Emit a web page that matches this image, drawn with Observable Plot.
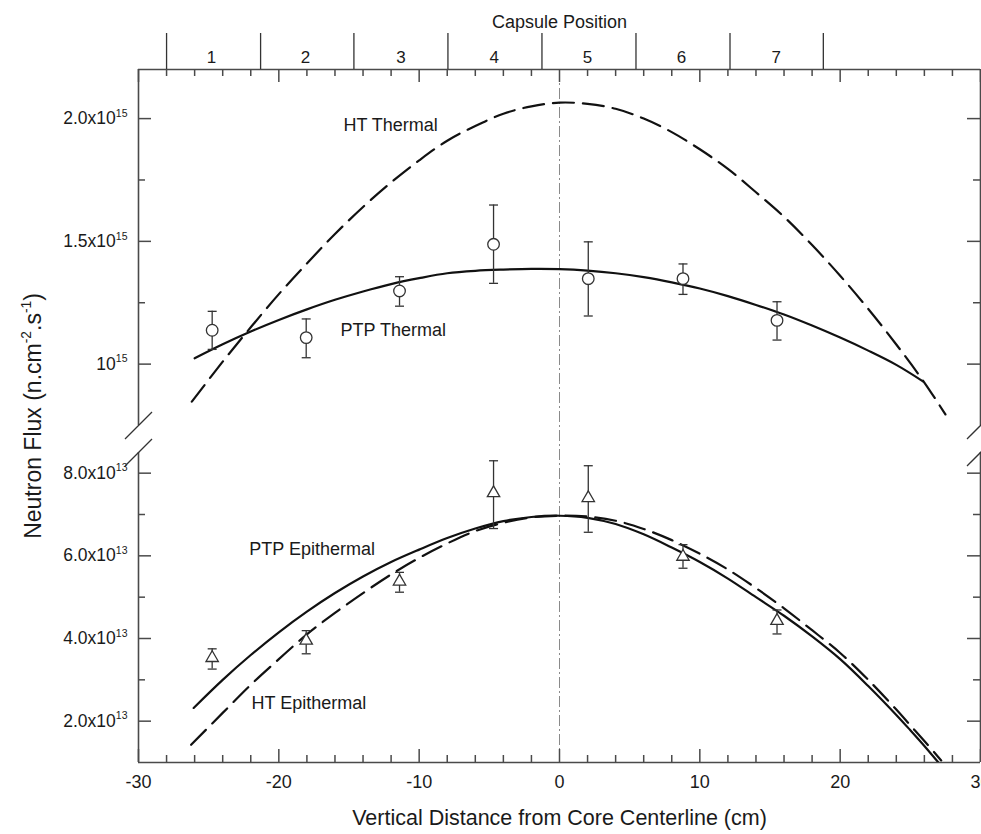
<!DOCTYPE html>
<html>
<head>
<meta charset="utf-8">
<script src="https://cdn.jsdelivr.net/npm/d3@7"></script>
<script src="https://cdn.jsdelivr.net/npm/@observablehq/plot@0.6"></script>
<style>
html, body { margin: 0; padding: 0; background: #fff; overflow: hidden; }
svg { display: block; }
</style>
</head>
<body>
<div id="chart"></div>
<script>
// ---------------- data ----------------
const capsuleLabels = ["1", "2", "3", "4", "5", "6", "7"];
const capsuleCenters = [-24.8, -18.1, -11.3, -4.65, 2.0, 8.7, 15.45];
const capsuleEdges = [-28, -21.3, -14.65, -7.95, -1.25, 5.45, 12.15, 18.8];

// measured points (capsule positions)
const measX = [-24.75, -18.05, -11.4, -4.7, 2.05, 8.8, 15.5];
const thermal   = [1.138e15, 1.108e15, 1.298e15, 1.488e15, 1.348e15, 1.348e15, 1.178e15];
const thermalHi = [1.215e15, 1.184e15, 1.356e15, 1.648e15, 1.498e15, 1.408e15, 1.254e15];
const thermalLo = [1.060e15, 1.026e15, 1.236e15, 1.329e15, 1.196e15, 1.284e15, 1.098e15];
const epi   = [3.53e13, 3.95e13, 5.38e13, 7.52e13, 7.40e13, 5.98e13, 4.43e13];
const epiHi = [3.75e13, 4.19e13, 5.60e13, 8.30e13, 8.18e13, 6.27e13, 4.69e13];
const epiLo = [3.26e13, 3.63e13, 5.12e13, 6.66e13, 6.57e13, 5.70e13, 4.11e13];

// calculated profiles
const htThermalX = [-26.2, -24, -22, -20, -18, -16, -14, -12, -10, -8, -6, -4, -2, 0, 2, 4, 6, 8, 10, 12, 14, 16, 18, 20, 22, 24, 26, 27.5];
const htThermalY = [0.847e15, 1.01e15, 1.15e15, 1.285e15, 1.41e15, 1.53e15, 1.64e15, 1.74e15, 1.83e15, 1.91e15, 1.97e15, 2.02e15, 2.05e15, 2.065e15, 2.06e15, 2.04e15, 2.0e15, 1.945e15, 1.875e15, 1.795e15, 1.70e15, 1.60e15, 1.485e15, 1.36e15, 1.225e15, 1.08e15, 0.925e15, 0.795e15];

const ptpThermalX = [-26, -24, -22, -20, -18, -16, -14, -12, -10, -8, -6, -4, -2, 0, 2, 4, 6, 8, 10, 12, 14, 16, 18, 20, 22, 24, 25.9];
const ptpThermalY = [1.024e15, 1.081e15, 1.133e15, 1.18e15, 1.223e15, 1.262e15, 1.296e15, 1.326e15, 1.35e15, 1.37e15, 1.38e15, 1.385e15, 1.388e15, 1.387e15, 1.381e15, 1.37e15, 1.354e15, 1.333e15, 1.308e15, 1.277e15, 1.241e15, 1.202e15, 1.157e15, 1.108e15, 1.055e15, 0.997e15, 0.93e15];

const ptpEpiX = [-26.07, -24, -22, -20, -18, -16, -14, -12, -10, -8, -6, -4, -2, 0, 2, 4, 6, 8, 10, 12, 14, 16, 18, 20, 22, 24, 25, 26, 27];
const ptpEpiY = [2.32e13, 3.0e13, 3.6e13, 4.15e13, 4.65e13, 5.1e13, 5.5e13, 5.85e13, 6.15e13, 6.43e13, 6.66e13, 6.84e13, 6.94e13, 6.97e13, 6.92e13, 6.77e13, 6.52e13, 6.2e13, 5.85e13, 5.45e13, 5.0e13, 4.55e13, 4.05e13, 3.5e13, 2.85e13, 2.15e13, 1.78e13, 1.4e13, 1.0e13];

const htEpiX = [-26.25, -24, -22, -20, -18, -16, -14, -12, -10, -8, -6, -4, -2, 0, 2, 4, 6, 8, 10, 12, 14, 16, 18, 20, 22, 24, 25, 26, 27.2];
const htEpiY = [1.43e13, 2.2e13, 2.88e13, 3.5e13, 4.1e13, 4.62e13, 5.1e13, 5.55e13, 5.95e13, 6.3e13, 6.6e13, 6.8e13, 6.93e13, 6.97e13, 6.95e13, 6.85e13, 6.65e13, 6.38e13, 6.05e13, 5.67e13, 5.22e13, 4.73e13, 4.2e13, 3.65e13, 3.0e13, 2.28e13, 1.9e13, 1.52e13, 1.05e13];

// curve labels
const annText = ["HT Thermal", "PTP Thermal", "PTP Epithermal", "HT Epithermal"];
const annX = [-15.4, -15.6, -22.1, -21.95];
const annY = [1.974e15, 1.139e15, 6.17e13, 2.44e13];

// axes
const xDomain = [-30, 30];
const xMajor = [-30, -20, -10, 0, 10, 20, 30];
const xMajorText = ["-30", "-20", "-10", "0", "10", "20", "30"];
const xMinor = [-28, -26, -24, -22, -18, -16, -14, -12, -8, -6, -4, -2, 2, 4, 6, 8, 12, 14, 16, 18, 22, 24, 26, 28];
// broken y axis: lower segment [1e13, 8.5e13], upper segment [0.75e15, 2.2e15]
const yLower = [1e13, 8.5e13];
const yUpper = [0.75e15, 2.2e15];
const yMajor = [2e13, 4e13, 6e13, 8e13, 1e15, 1.5e15, 2e15];
const yMajorText = ["2.0x10^{13}", "4.0x10^{13}", "6.0x10^{13}", "8.0x10^{13}", "10^{15}", "1.5x10^{15}", "2.0x10^{15}"];
const yMinor = [3e13, 5e13, 7e13, 1.25e15, 1.75e15];

const xTitle = "Vertical Distance from Core Centerline (cm)";
const yTitle = "Neutron Flux (n.cm^{-2}.s^{-1})";
const topTitle = "Capsule Position";

// ---------------- layout ----------------
const W = 981, H = 834, mL = 138, mR = 1, mT = 69, mB = 72;
const fw = W - mL - mR, fh = H - mT - mB;
const gapTop = 425, gapBottom = 452; // pixel ends of the two y segments
const majorLen = 13, minorLen = 7;
const ink = "#1a1a1a", axisInk = "#4a4a4a", barInk = "#333";
const FONT = "'Liberation Sans', Arial, Helvetica, sans-serif";

const idx = d3.range(measX.length);
const capSym = {draw(ctx, size) { const r = Math.sqrt(size / Math.PI); ctx.moveTo(-r, 0); ctx.lineTo(r, 0); }};
const slashSym = {draw(ctx, size) { const r = Math.sqrt(size / Math.PI); ctx.moveTo(-r, r); ctx.lineTo(r, -r); }};
const breaks = [
  {x: xDomain[0], y: yUpper[0]}, {x: xDomain[0], y: yLower[1]},
  {x: xDomain[1], y: yUpper[0]}, {x: xDomain[1], y: yLower[1]}
];

const chart = Plot.plot({
  width: W, height: H,
  marginLeft: mL, marginRight: mR, marginTop: mT, marginBottom: mB,
  style: {fontFamily: FONT, fontSize: "17px", color: ink, background: "#fff", overflow: "hidden"},
  x: {domain: xDomain, ticks: xMajor, tickFormat: d => xMajorText[xMajor.indexOf(d)], tickSize: 0, tickPadding: 13, label: null},
  y: {type: "linear", domain: [yLower[0], yLower[1], yUpper[0], yUpper[1]], range: [H - mB, gapBottom, gapTop, mT],
      ticks: yMajor, tickFormat: d => yMajorText[yMajor.indexOf(d)], tickSize: 0, tickPadding: 11, label: null},
  marks: [
    // core centerline
    Plot.ruleX([0], {stroke: "#8a8a8a", strokeWidth: 1, strokeDasharray: "11,3,2,3"}),
    // frame lines
    Plot.ruleY([yLower[0], yUpper[1]], {stroke: axisInk, strokeWidth: 1.6}),
    Plot.ruleX(xDomain, {y1: yUpper[0], y2: yUpper[1], stroke: axisInk, strokeWidth: 1.6}),
    Plot.ruleX(xDomain, {y1: yLower[0], y2: yLower[1], stroke: axisInk, strokeWidth: 1.6}),
    // inward ticks: bottom, top, left, right
    Plot.tickX(xMajor, {x: d => d, insetTop: fh - majorLen, stroke: axisInk, strokeWidth: 1.5}),
    Plot.tickX(xMinor, {x: d => d, insetTop: fh - minorLen, stroke: axisInk, strokeWidth: 1.5}),
    Plot.tickX(xMajor, {x: d => d, insetBottom: fh - majorLen, stroke: axisInk, strokeWidth: 1.5}),
    Plot.tickX(xMinor, {x: d => d, insetBottom: fh - minorLen, stroke: axisInk, strokeWidth: 1.5}),
    Plot.tickY(yMajor, {y: d => d, insetRight: fw - majorLen, stroke: axisInk, strokeWidth: 1.5}),
    Plot.tickY(yMinor, {y: d => d, insetRight: fw - minorLen, stroke: axisInk, strokeWidth: 1.5}),
    Plot.tickY(yMajor, {y: d => d, insetLeft: fw - majorLen, stroke: axisInk, strokeWidth: 1.5}),
    Plot.tickY(yMinor, {y: d => d, insetLeft: fw - minorLen, stroke: axisInk, strokeWidth: 1.5}),
    // axis break slashes
    Plot.dot(breaks, {x: "x", y: "y", symbol: slashSym, r: 13.5, stroke: "#333", strokeWidth: 1.3, fill: "none"}),
    // capsule position scale on top
    Plot.ruleX(capsuleEdges, {insetTop: -36, insetBottom: fh, stroke: "#333", strokeWidth: 1.3}),
    Plot.text(capsuleLabels, {x: (d, i) => capsuleCenters[i], text: d => d, frameAnchor: "top", dy: -19, fontSize: 17, fill: ink}),
    Plot.text([topTitle], {frameAnchor: "top", dy: -54, fontSize: 18, fill: ink}),
    // calculated curves
    Plot.line(htThermalX, {x: d => d, y: (d, i) => htThermalY[i], curve: "catmull-rom", stroke: "#111", strokeWidth: 2.2, strokeDasharray: "21,9", clip: true}),
    Plot.line(ptpThermalX, {x: d => d, y: (d, i) => ptpThermalY[i], curve: "catmull-rom", stroke: "#111", strokeWidth: 2.2, clip: true}),
    Plot.line(htEpiX, {x: d => d, y: (d, i) => htEpiY[i], curve: "catmull-rom", stroke: "#111", strokeWidth: 2.2, strokeDasharray: "21,9", clip: true}),
    Plot.line(ptpEpiX, {x: d => d, y: (d, i) => ptpEpiY[i], curve: "catmull-rom", stroke: "#111", strokeWidth: 2.2, clip: true}),
    // error bars
    Plot.ruleX(idx, {x: i => measX[i], y1: i => thermalLo[i], y2: i => thermalHi[i], stroke: barInk, strokeWidth: 1.3}),
    Plot.ruleX(idx, {x: i => measX[i], y1: i => epiLo[i], y2: i => epiHi[i], stroke: barInk, strokeWidth: 1.3}),
    Plot.dot(idx, {x: i => measX[i], y: i => thermalHi[i], symbol: capSym, r: 4.5, stroke: barInk, strokeWidth: 1.3, fill: "none"}),
    Plot.dot(idx, {x: i => measX[i], y: i => thermalLo[i], symbol: capSym, r: 4.5, stroke: barInk, strokeWidth: 1.3, fill: "none"}),
    Plot.dot(idx, {x: i => measX[i], y: i => epiHi[i], symbol: capSym, r: 4.5, stroke: barInk, strokeWidth: 1.3, fill: "none"}),
    Plot.dot(idx, {x: i => measX[i], y: i => epiLo[i], symbol: capSym, r: 4.5, stroke: barInk, strokeWidth: 1.3, fill: "none"}),
    // measured points
    Plot.dot(idx, {x: i => measX[i], y: i => thermal[i], symbol: "circle", r: 5.8, stroke: barInk, strokeWidth: 1.3, fill: "#fff"}),
    Plot.dot(idx, {x: i => measX[i], y: i => epi[i], symbol: "triangle", r: 4.6, stroke: barInk, strokeWidth: 1.3, fill: "#fff"}),
    // curve labels
    Plot.text(annText, {x: (d, i) => annX[i], y: (d, i) => annY[i], text: d => d, textAnchor: "start", fontSize: 18, fill: ink}),
    // axis titles
    Plot.text([xTitle], {frameAnchor: "bottom", dy: 62, fontSize: 21.5, fill: ink}),
    Plot.text([yTitle], {frameAnchor: "left", textAnchor: "middle", dx: -105, rotate: -90, fontSize: 23, fill: ink})
  ]
});

chart.style.overflow = "hidden";
document.getElementById("chart").appendChild(chart);

// tick label sizes
chart.querySelectorAll('[aria-label^="x-axis"] text').forEach(t => t.setAttribute("font-size", 18));
chart.querySelectorAll('[aria-label^="y-axis"] text').forEach(t => t.setAttribute("font-size", 17.5));

// superscripts: "^{..}" -> raised smaller tspan
function supify(el) {
  const s = el.textContent;
  if (!s.includes("^{")) return;
  const fs = parseFloat(getComputedStyle(el).fontSize) || 17;
  const sh = fs * 0.42, ss = Math.round(fs * 0.6 * 10) / 10;
  const parts = s.split(/(\^\{[^}]*\})/);
  el.textContent = "";
  let raised = false;
  for (const p of parts) {
    if (!p) continue;
    const t = document.createElementNS("http://www.w3.org/2000/svg", "tspan");
    if (p.startsWith("^{")) {
      t.textContent = p.slice(2, -1);
      t.setAttribute("font-size", ss);
      t.setAttribute("dy", -sh);
      raised = true;
    } else {
      t.textContent = p;
      if (raised) { t.setAttribute("dy", sh); raised = false; }
    }
    el.appendChild(t);
  }
}
chart.querySelectorAll("text").forEach(supify);
</script>
</body>
</html>
